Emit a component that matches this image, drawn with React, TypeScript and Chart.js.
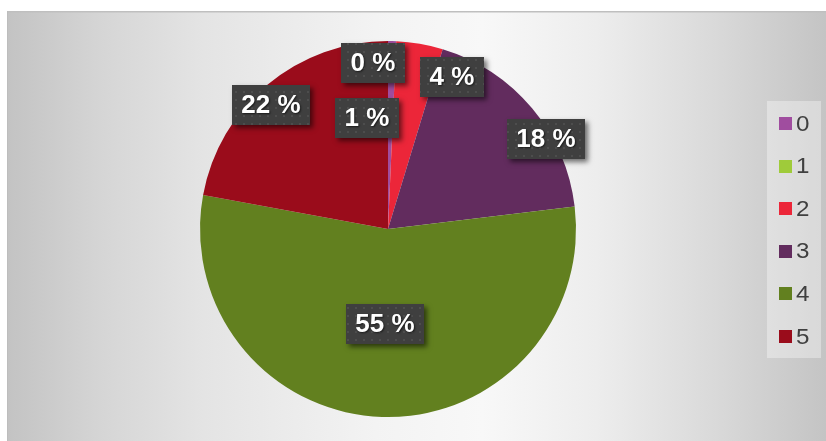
import React, { useEffect, useRef } from "react";
import { Chart, registerables } from "chart.js";

Chart.register(...registerables);

// ---- data ----
const categories = ["0", "1", "2", "3", "4", "5"];
const values = [0.7, 0, 4.0, 18.4, 54.8, 22.1];
const sliceColors = ["#a04d9f", "#9fcb3a", "#ec2639", "#622c5e", "#62801f", "#9a0c1b"];

// label placement relative to slice (angle shift in degrees, radius fraction)
const labelAngleShift = [-12, -7.7, 13.1, 10.4, 0, -3.5];
const labelRadiusFrac = [0.6, 0.887, 0.877, 0.965, 0.506, 0.907];

const W = 826;
const H = 441;

const backgroundPlugin = {
  id: "bgFrame",
  beforeDraw(chart: any) {
    const ctx = chart.ctx as CanvasRenderingContext2D;
    ctx.save();
    ctx.fillStyle = "#ffffff";
    ctx.fillRect(0, 0, W, H);
    const x0 = 7;
    const y0 = 11;
    const g = ctx.createLinearGradient(x0, 0, W, 0);
    g.addColorStop(0, "#c3c3c3");
    g.addColorStop(0.12, "#d6d6d6");
    g.addColorStop(0.24, "#e4e4e4");
    g.addColorStop(0.45, "#f3f3f3");
    g.addColorStop(0.58, "#f8f8f8");
    g.addColorStop(0.72, "#ededed");
    g.addColorStop(0.86, "#dadada");
    g.addColorStop(1, "#c4c4c4");
    ctx.fillStyle = g;
    ctx.fillRect(x0, y0, W - x0, H - y0);
    ctx.fillStyle = "#bfbfbf";
    ctx.fillRect(x0, y0, W - x0, 1.5);
    ctx.fillStyle = "#bdbdbd";
    ctx.fillRect(x0, y0, 1, H - y0);
    ctx.restore();
  },
};

let patternCache: CanvasPattern | null = null;
function getPattern(ctx: CanvasRenderingContext2D) {
  if (patternCache) return patternCache;
  const c = document.createElement("canvas");
  c.width = 8;
  c.height = 8;
  const p = c.getContext("2d")!;
  p.fillStyle = "#3f3f3f";
  p.fillRect(0, 0, 8, 8);
  p.fillStyle = "#4d4d4d";
  p.fillRect(3, 3, 2, 2);
  patternCache = ctx.createPattern(c, "repeat");
  return patternCache;
}

const labelPlugin = {
  id: "pctLabels",
  afterDatasetsDraw(chart: any) {
    const ctx = chart.ctx as CanvasRenderingContext2D;
    const meta = chart.getDatasetMeta(0);
    const data: number[] = chart.data.datasets[0].data;
    const total = data.reduce((a, b) => a + b, 0);
    ctx.save();
    ctx.font = "bold 26px 'Liberation Sans', Arial, sans-serif";
    ctx.textAlign = "center";
    ctx.textBaseline = "middle";
    meta.data.forEach((arc: any, i: number) => {
      const p = arc.getProps(["x", "y", "startAngle", "endAngle", "outerRadius"], true);
      const mid = (p.startAngle + p.endAngle) / 2 + (labelAngleShift[i] * Math.PI) / 180;
      const r = p.outerRadius * labelRadiusFrac[i];
      const lx = p.x + r * Math.cos(mid);
      const ly = p.y + r * Math.sin(mid);
      const text = Math.round((data[i] / total) * 100) + " %";
      const tw = ctx.measureText(text).width;
      const bw = Math.round(tw + 19);
      const bh = 40;
      const bx = Math.round(lx - bw / 2);
      const by = Math.round(ly - bh / 2);
      ctx.save();
      ctx.shadowColor = "rgba(0,0,0,0.55)";
      ctx.shadowBlur = 5;
      ctx.shadowOffsetX = 3;
      ctx.shadowOffsetY = 3;
      ctx.fillStyle = "#404040";
      ctx.fillRect(bx, by, bw, bh);
      ctx.restore();
      ctx.fillStyle = getPattern(ctx) || "#404040";
      ctx.fillRect(bx, by, bw, bh);
      ctx.save();
      ctx.shadowColor = "rgba(0,0,0,0.6)";
      ctx.shadowBlur = 2;
      ctx.shadowOffsetX = 1;
      ctx.shadowOffsetY = 1;
      ctx.fillStyle = "#ffffff";
      ctx.fillText(text, bx + bw / 2, by + bh / 2 + 1);
      ctx.restore();
    });
    ctx.restore();
  },
};

const legendPlugin = {
  id: "customLegend",
  afterDraw(chart: any) {
    const ctx = chart.ctx as CanvasRenderingContext2D;
    const labels: string[] = chart.data.labels;
    const colors: string[] = chart.data.datasets[0].backgroundColor;
    ctx.save();
    ctx.fillStyle = "rgba(255,255,255,0.35)";
    ctx.fillRect(767, 101, 54, 257);
    ctx.font = "22px 'Liberation Sans', Arial, sans-serif";
    ctx.textBaseline = "middle";
    ctx.textAlign = "left";
    labels.forEach((lab, i) => {
      const cy = 123.5 + i * 42.6;
      ctx.fillStyle = colors[i];
      ctx.fillRect(779, Math.round(cy - 6.5), 13, 13);
      ctx.fillStyle = "#404040";
      ctx.save();
      ctx.translate(796, cy + 1);
      ctx.scale(1.1, 1);
      ctx.fillText(lab, 0, 0);
      ctx.restore();
    });
    ctx.restore();
  },
};

export default function App() {
  const ref = useRef<HTMLCanvasElement | null>(null);
  useEffect(() => {
    if (!ref.current) return;
    const chart = new Chart(ref.current, {
      type: "pie",
      data: {
        labels: categories,
        datasets: [
          {
            data: values,
            backgroundColor: sliceColors,
            borderWidth: 0,
          },
        ],
      },
      options: {
        animation: false,
        responsive: false,
        devicePixelRatio: 1,
        layout: { padding: { left: 200, right: 250, top: 41, bottom: 24 } },
        plugins: {
          legend: { display: false },
          tooltip: { enabled: false },
        },
      },
      plugins: [backgroundPlugin, labelPlugin, legendPlugin],
    } as any);
    return () => chart.destroy();
  }, []);
  return (
    <div style={{ position: "absolute", left: 0, top: 0, width: W, height: H }}>
      <canvas ref={ref} width={W} height={H} style={{ display: "block", width: W, height: H }} />
    </div>
  );
}
